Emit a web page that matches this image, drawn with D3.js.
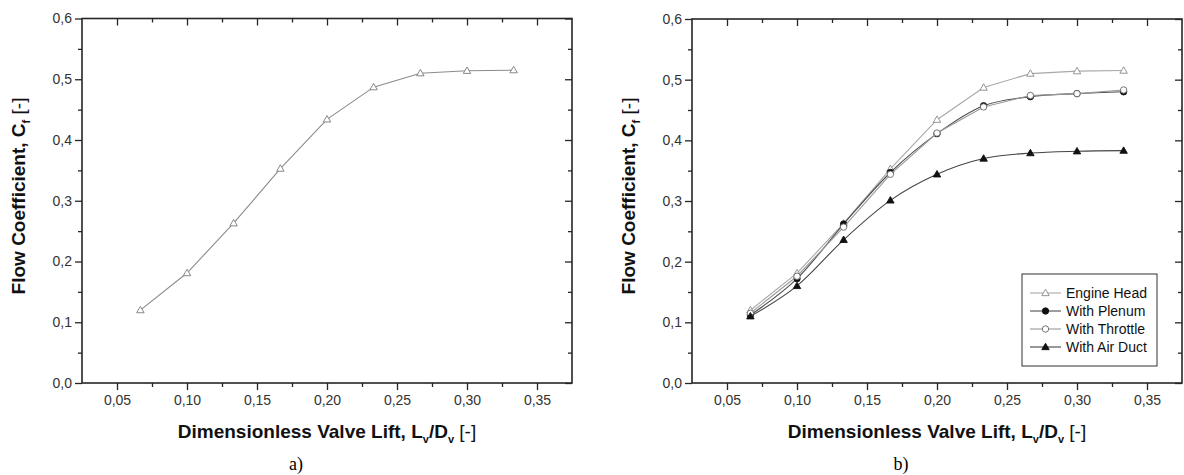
<!DOCTYPE html>
<html>
<head>
<meta charset="utf-8">
<script src="https://cdn.jsdelivr.net/npm/d3@7/dist/d3.min.js"></script>
<style>
  html, body { margin: 0; padding: 0; background: #fff; }
  svg { display: block; font-family: "Liberation Sans", Arial, sans-serif; }
</style>
</head>
<body>
<svg id="fig" width="1184" height="475"></svg>
<script>
// Dimensionless valve lift L_v/D_v at each measurement
const liftRatio = [0.0667, 0.1, 0.1333, 0.1667, 0.2, 0.2333, 0.2667, 0.3, 0.3333];

// Flow coefficient C_f for each configuration
const engineHead   = [0.120, 0.181, 0.263, 0.353, 0.434, 0.487, 0.510, 0.514, 0.515];
const withPlenum   = [0.112, 0.172, 0.262, 0.347, 0.411, 0.457, 0.472, 0.477, 0.480];
const withThrottle = [0.115, 0.176, 0.257, 0.344, 0.412, 0.455, 0.474, 0.477, 0.483];
const withAirDuct  = [0.110, 0.160, 0.236, 0.301, 0.344, 0.370, 0.379, 0.382, 0.383];

// Axis ticks
const xMajorTicks = [0.05, 0.10, 0.15, 0.20, 0.25, 0.30, 0.35];
const xMinorTicks = [0.075, 0.125, 0.175, 0.225, 0.275, 0.325];
const yMajorTicks = [0.0, 0.1, 0.2, 0.3, 0.4, 0.5, 0.6];
const yMinorTicks = [0.05, 0.15, 0.25, 0.35, 0.45, 0.55];
const xDomain = [0.025, 0.375];
const yDomain = [0, 0.6];

const svg = d3.select("#fig");
const comma = f => v => d3.format(f)(v).replace(".", ",");

const triangle = d3.symbol().type(d3.symbolTriangle).size(24);

function drawPanel(opts) {
  const g = svg.append("g").attr("transform", `translate(${opts.left},${opts.top})`);
  const W = opts.width, H = opts.height;
  const x = d3.scaleLinear().domain(xDomain).range([0, W]);
  const y = d3.scaleLinear().domain(yDomain).range([H, 0]);

  const axisColor = "#262626";
  const styleAxis = sel => {
    sel.select(".domain").remove();
    sel.selectAll(".tick line").attr("stroke", axisColor).attr("stroke-width", 1.3);
    sel.selectAll(".tick text").attr("fill", "#333").style("font-size", "14px")
      .style("font-family", "'Liberation Sans', Arial, sans-serif");
  };

  // major + minor ticks on all four sides (top/right mirrored inward)
  g.append("g").attr("transform", `translate(0,${H})`)
    .call(d3.axisBottom(x).tickValues(xMajorTicks).tickSize(7).tickPadding(5).tickFormat(comma(".2f")))
    .call(styleAxis);
  g.append("g").attr("transform", `translate(0,${H})`)
    .call(d3.axisBottom(x).tickValues(xMinorTicks).tickSize(4).tickFormat(""))
    .call(styleAxis);
  g.append("g")
    .call(d3.axisTop(x).tickValues(xMajorTicks).tickSize(-7).tickFormat(""))
    .call(styleAxis);
  g.append("g")
    .call(d3.axisTop(x).tickValues(xMinorTicks).tickSize(-4).tickFormat(""))
    .call(styleAxis);
  g.append("g")
    .call(d3.axisLeft(y).tickValues(yMajorTicks).tickSize(7).tickPadding(3).tickFormat(comma(".1f")))
    .call(styleAxis);
  g.append("g")
    .call(d3.axisLeft(y).tickValues(yMinorTicks).tickSize(4).tickFormat(""))
    .call(styleAxis);
  g.append("g").attr("transform", `translate(${W},0)`)
    .call(d3.axisRight(y).tickValues(yMajorTicks).tickSize(-7).tickFormat(""))
    .call(styleAxis);
  g.append("g").attr("transform", `translate(${W},0)`)
    .call(d3.axisRight(y).tickValues(yMinorTicks).tickSize(-4).tickFormat(""))
    .call(styleAxis);

  // frame
  g.append("rect").attr("x", 0).attr("y", 0).attr("width", W).attr("height", H)
    .attr("fill", "none").attr("stroke", axisColor).attr("stroke-width", 1.6);

  // series
  opts.series.forEach(s => {
    const pts = liftRatio.map((v, i) => [v, s.values[i]]);
    const line = d3.line().x(d => x(d[0])).y(d => y(d[1])).curve(s.curve || d3.curveLinear);
    g.append("path").attr("d", line(pts)).attr("fill", "none")
      .attr("stroke", s.lineColor).attr("stroke-width", 1.1);
    const m = g.append("g");
    pts.forEach(p => drawMarker(m, s, x(p[0]), y(p[1])));
  });

  // axis titles
  const xt = g.append("text").attr("x", W / 2).attr("y", 437.5 - opts.top)
    .attr("text-anchor", "middle").attr("fill", "#111").style("font-size", "19px");
  xt.append("tspan").attr("font-weight", "bold").text("Dimensionless Valve Lift, L");
  xt.append("tspan").attr("font-weight", "bold").attr("dy", 5).style("font-size", "11px").text("v");
  xt.append("tspan").attr("font-weight", "bold").attr("dy", -5).text("/D");
  xt.append("tspan").attr("font-weight", "bold").attr("dy", 5).style("font-size", "11px").text("v");
  xt.append("tspan").attr("dy", -5).text(" [-]");

  const yt = g.append("text")
    .attr("transform", `translate(${opts.yTitleX - opts.left},${196 - opts.top}) rotate(-90)`)
    .attr("text-anchor", "middle").attr("fill", "#111").style("font-size", "19px");
  yt.append("tspan").attr("font-weight", "bold").text("Flow Coefficient, C");
  yt.append("tspan").attr("font-weight", "bold").attr("dy", 5).style("font-size", "11px").text("f");
  yt.append("tspan").attr("dy", -5).text(" [-]");

  // panel caption
  svg.append("text").attr("x", opts.captionX).attr("y", 470)
    .attr("text-anchor", "middle").attr("fill", "#000")
    .style("font-family", "'Liberation Serif', 'Times New Roman', serif").style("font-size", "18px")
    .text(opts.caption);

  return { g, x, y };
}

function drawMarker(parent, s, cx, cy) {
  if (s.shape === "triangle") {
    parent.append("path").attr("d", triangle())
      .attr("transform", `translate(${cx},${cy + 0.5})`)
      .attr("fill", s.filled ? s.markerColor : "#fff")
      .attr("stroke", s.markerColor).attr("stroke-width", 0.9);
  } else {
    parent.append("circle").attr("cx", cx).attr("cy", cy).attr("r", 3.2)
      .attr("fill", s.filled ? s.markerColor : "#fff")
      .attr("stroke", s.markerColor).attr("stroke-width", 0.9);
  }
}

// a) engine head only
drawPanel({
  left: 82, top: 18.5, width: 490, height: 364.5,
  yTitleX: 25, captionX: 296, caption: "a)",
  series: [
    { name: "Engine Head", values: engineHead, lineColor: "#8c8c8c", markerColor: "#7a7a7a", shape: "triangle", filled: false }
  ]
});

// b) all configurations
const seriesB = [
  { name: "Engine Head",   values: engineHead,   lineColor: "#a8a8a8", markerColor: "#8a8a8a", shape: "triangle", filled: false },
  { name: "With Plenum",   values: withPlenum,   lineColor: "#4d4d4d", markerColor: "#111",    shape: "circle",   filled: true, curve: d3.curveMonotoneX },
  { name: "With Throttle", values: withThrottle, lineColor: "#9a9a9a", markerColor: "#666",    shape: "circle",   filled: false },
  { name: "With Air Duct", values: withAirDuct,  lineColor: "#444",    markerColor: "#111",    shape: "triangle", filled: true, curve: d3.curveMonotoneX }
];
drawPanel({
  left: 692, top: 19, width: 490, height: 364,
  yTitleX: 635, captionX: 901, caption: "b)",
  series: seriesB
});

// legend for panel b)
const lg = svg.append("g").attr("transform", "translate(1022,274)");
lg.append("rect").attr("width", 135).attr("height", 92)
  .attr("fill", "#fff").attr("stroke", "#333").attr("stroke-width", 1);
seriesB.forEach((s, i) => {
  const yy = 19 + i * 18;
  lg.append("line").attr("x1", 8).attr("x2", 39).attr("y1", yy).attr("y2", yy)
    .attr("stroke", s.lineColor).attr("stroke-width", 1.1);
  drawMarker(lg, s, 23.5, yy);
  lg.append("text").attr("x", 44).attr("y", yy).attr("dy", "0.36em")
    .attr("fill", "#111").style("font-size", "14px").text(s.name);
});
</script>
</body>
</html>
